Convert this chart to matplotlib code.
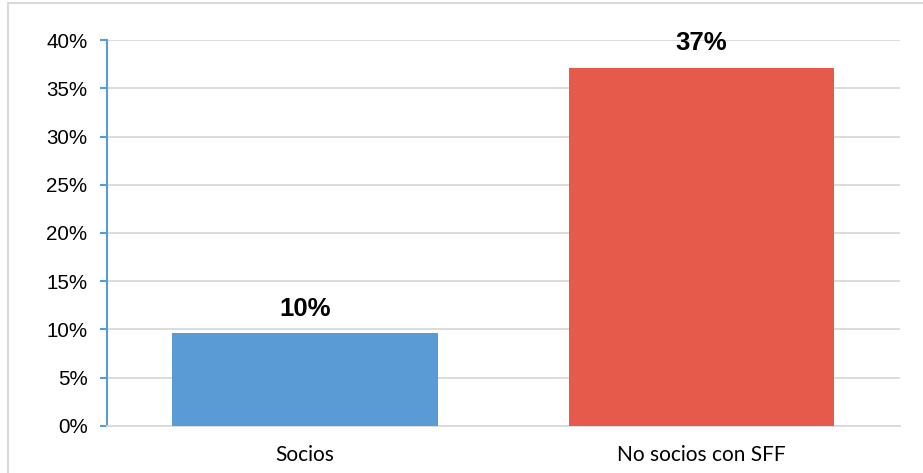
import matplotlib.pyplot as plt
from matplotlib.patches import Rectangle
from matplotlib.ticker import PercentFormatter, MultipleLocator

# 数据
categories = ['Socios', 'No socios con SFF']
values = [0.096, 0.371]
bar_colors = ['#5B9BD5', '#E65A4C']

fig = plt.figure(figsize=(9.23, 4.73), dpi=100)
ax = fig.add_axes([0.1159, 0.0994, 0.859, 0.816])

x = range(len(categories))
ax.bar(x, values, width=0.67, color=bar_colors, zorder=3)

for xi, v in zip(x, values):
    ax.annotate(f'{v:.0%}', (xi, v), xytext=(0, 9), textcoords='offset points',
                ha='center', va='bottom', fontsize=18.5, fontweight='bold',
                family='Liberation Sans', color='#000000')

ax.set_xlim(-0.5, len(categories) - 0.5)
ax.set_ylim(0, 0.40)
ax.yaxis.set_major_locator(MultipleLocator(0.05))
ax.yaxis.set_major_formatter(PercentFormatter(1.0, decimals=0))

ax.grid(axis='y', color='#D9D9D9', linewidth=1.3, zorder=0)
ax.set_axisbelow(True)

for side in ['top', 'right']:
    ax.spines[side].set_visible(False)
ax.spines['left'].set_color('#5B9BD5')
ax.spines['left'].set_linewidth(1.5)
ax.spines['bottom'].set_color('#D9D9D9')
ax.spines['bottom'].set_linewidth(1.3)

ax.tick_params(axis='y', length=5, width=1.5, color='#5B9BD5', pad=9,
               labelsize=14.8, labelcolor='#000000')
ax.tick_params(axis='x', length=0, pad=14, labelsize=15, labelcolor='#000000')
for lbl in ax.get_yticklabels():
    lbl.set_family('Liberation Sans')
ax.set_xticks(list(x))
ax.set_xticklabels(categories, family='Lato')

# 外框
fig.patches.append(Rectangle((8 / 923, -0.1), 2.0, 1.1 - 3 / 473,
                             transform=fig.transFigure, fill=False,
                             edgecolor='#D9D9D9', linewidth=1.5))

fig.savefig('out.png', dpi=100)
